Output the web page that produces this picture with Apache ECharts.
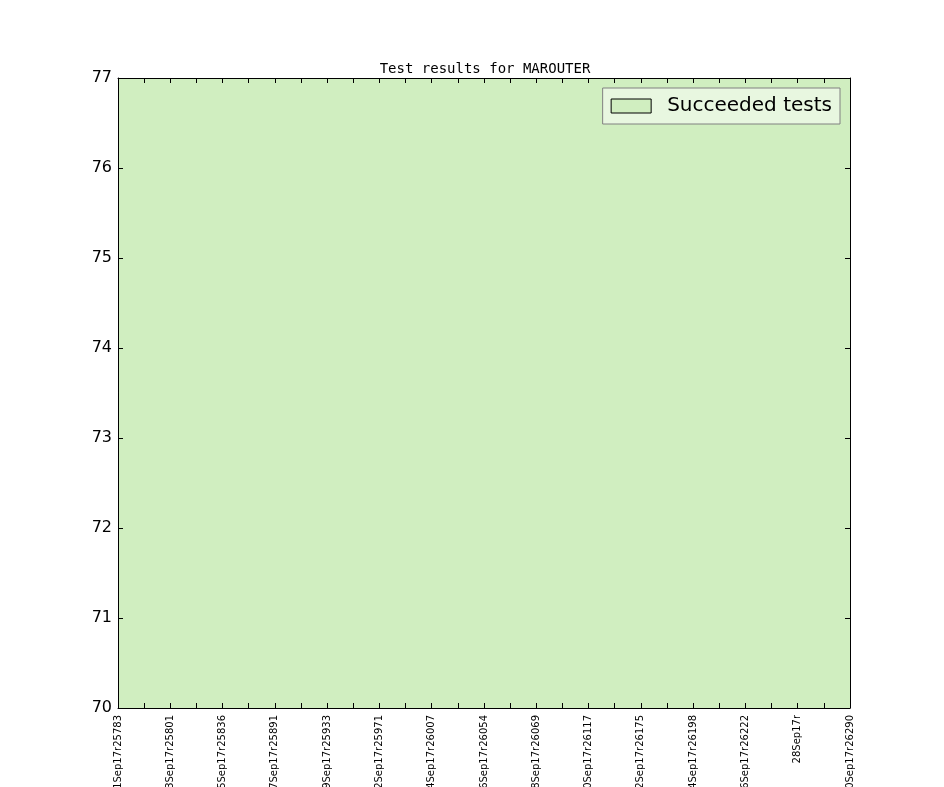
<!DOCTYPE html>
<html>
<head>
<meta charset="utf-8">
<script src="https://cdn.jsdelivr.net/npm/echarts@6/dist/echarts.min.js"></script>
<style>html,body{margin:0;padding:0;background:#fff}#c{width:944px;height:787px}</style>
</head>
<body>
<div id="c"></div>
<script>
// Build categories: labelled ticks alternate with unlabelled ticks
const labeledBuilds = ["01Sep17r25783","03Sep17r25801","05Sep17r25836","07Sep17r25891","09Sep17r25933","12Sep17r25971","14Sep17r26007","16Sep17r26054","18Sep17r26069","20Sep17r26117","22Sep17r26175","24Sep17r26198","26Sep17r26222","28Sep17r","30Sep17r26290"];
const categories = [];
labeledBuilds.forEach((b, i) => { categories.push(b); if (i < labeledBuilds.length - 1) categories.push(""); });
const succeeded = [77,77,77,77,77,77,77,77,77,77,77,77,77,77,77,77,77,77,77,77,77,77,77,77,77,77,77,77,77];
const yTicks = { min: 70, max: 77, interval: 1 };

const green = '#d0eec0';
const chart = echarts.init(document.getElementById('c'), null, { renderer: 'canvas' });
const tick = { show: true, inside: true, length: 5, lineStyle: { color: '#000', width: 1 } };
chart.setOption({
  animation: false,
  backgroundColor: '#fff',
  title: {
    text: 'Test results for MAROUTER',
    left: 480, top: 57, textAlign: 'center',
    textStyle: { fontFamily: 'DejaVu Sans Mono', fontSize: 14, fontWeight: 'normal', color: '#000' }
  },
  legend: {
    right: 104, top: 88,
    orient: 'vertical',
    backgroundColor: 'rgba(255,255,255,0.5)',
    borderColor: '#808080', borderWidth: 1, borderRadius: 0,
    padding: [8, 8, 8, 8],
    itemWidth: 40, itemHeight: 14,
    data: [{ name: 'Succeeded tests', icon: 'path://M0,0L40,0L40,14L0,14Z', itemStyle: { color: green, borderColor: '#000', borderWidth: 1 } }],
    textStyle: { fontFamily: 'DejaVu Sans', fontSize: 20, color: '#000', padding: [2, 0, 0, 11] }
  },
  grid: { left: 118, right: 94, top: 78, bottom: 79, containLabel: false, outerBoundsMode: 'none' },
  xAxis: [{
    type: 'category', data: categories, boundaryGap: false, z: 10,
    axisLine: { show: true, lineStyle: { color: '#000', width: 1 } },
    axisTick: Object.assign({ interval: 0 }, tick),
    axisLabel: { interval: 0, rotate: 90, margin: 7, fontFamily: 'DejaVu Sans', fontSize: 10, color: '#000' },
    splitLine: { show: false }
  }, {
    type: 'category', data: categories, boundaryGap: false, position: 'top', z: 10,
    axisLine: { show: true, lineStyle: { color: '#000', width: 1 } },
    axisTick: Object.assign({ interval: 0 }, tick),
    axisLabel: { show: false }, splitLine: { show: false }
  }],
  yAxis: [{
    type: 'value', min: yTicks.min, max: yTicks.max, interval: yTicks.interval, z: 10,
    axisLine: { show: true, lineStyle: { color: '#000', width: 1 } },
    axisTick: tick,
    axisLabel: { margin: 6, fontFamily: 'DejaVu Sans', fontSize: 16, color: '#000' },
    splitLine: { show: false }
  }, {
    type: 'value', min: yTicks.min, max: yTicks.max, interval: yTicks.interval, position: 'right', z: 10,
    axisLine: { show: true, lineStyle: { color: '#000', width: 1 } },
    axisTick: tick,
    axisLabel: { show: false }, splitLine: { show: false }
  }],
  series: [{
    name: 'Succeeded tests', type: 'line', data: succeeded,
    xAxisIndex: 0, yAxisIndex: 0,
    symbol: 'none', z: 1,
    lineStyle: { width: 0 },
    itemStyle: { color: green },
    areaStyle: { color: green, opacity: 1, origin: 'start' }
  }]
});
</script>
</body>
</html>
